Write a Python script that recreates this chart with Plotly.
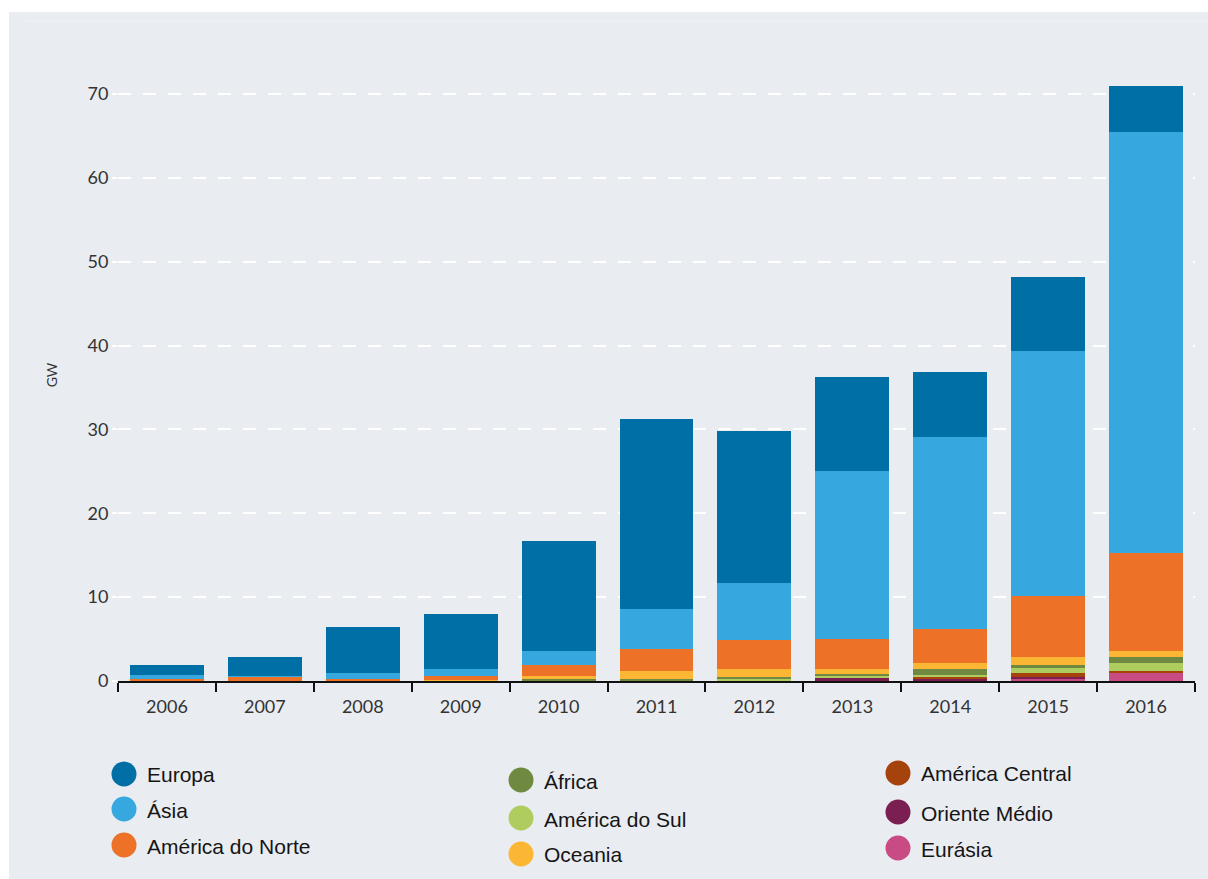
import plotly.graph_objects as go

# Solar PV capacity added per year, by region (GW)
years = ["2006", "2007", "2008", "2009", "2010", "2011", "2012", "2013", "2014", "2015", "2016"]

europa = [1.15, 2.2, 5.45, 6.65, 13.1, 22.7, 18.15, 11.2, 7.8, 8.85, 5.5]
asia = [0.5, 0.15, 0.75, 0.75, 1.71, 4.8, 6.7, 20.1, 22.95, 29.2, 50.25]
america_norte = [0.2, 0.45, 0.2, 0.5, 1.27, 2.6, 3.55, 3.55, 4.05, 7.25, 11.7]
oceania = [0.05, 0.05, 0.0, 0.15, 0.35, 1.0, 0.9, 0.6, 0.7, 1.0, 0.75]
africa = [0.0, 0.0, 0.0, 0.0, 0.15, 0.1, 0.2, 0.3, 0.7, 0.35, 0.72]
america_sul = [0.0, 0.0, 0.0, 0.0, 0.1, 0.1, 0.3, 0.25, 0.2, 0.6, 0.92]
america_central = [0.0, 0.0, 0.0, 0.0, 0.0, 0.0, 0.0, 0.0, 0.2, 0.45, 0.27]
oriente_medio = [0.0, 0.0, 0.0, 0.0, 0.0, 0.0, 0.0, 0.3, 0.3, 0.25, 0.0]
eurasia = [0.0, 0.0, 0.0, 0.0, 0.0, 0.0, 0.0, 0.0, 0.0, 0.25, 0.9]

y_ticks = [0, 10, 20, 30, 40, 50, 60, 70]

# (name, values, colour) in stacking order, bottom to top
stack = [
    ("Eurásia", eurasia, "#c94b84"),
    ("Oriente Médio", oriente_medio, "#7b1f52"),
    ("América Central", america_central, "#a6420c"),
    ("América do Sul", america_sul, "#afcd5f"),
    ("África", africa, "#6f8940"),
    ("Oceania", oceania, "#fbb634"),
    ("América do Norte", america_norte, "#ed7127"),
    ("Ásia", asia, "#37a8df"),
    ("Europa", europa, "#006fa6"),
]
colours = {name: col for name, _, col in stack}

# Legend layout: three columns of entries
legend_columns = [
    ["Europa", "Ásia", "América do Norte"],
    ["África", "América do Sul", "Oceania"],
    ["América Central", "Oriente Médio", "Eurásia"],
]

W, H = 1208, 879
ML, MR, MT, MB = 118, 13, 69, 198
BG = "#e9ecf1"

fig = go.Figure()
for name, vals, col in stack:
    fig.add_trace(go.Bar(
        x=years, y=vals, name=name,
        marker=dict(color=col, line=dict(width=0)),
        showlegend=False,
    ))


def px_x(p):
    return (p - ML) / (W - ML - MR)


def px_y(p):
    return (H - MB - p) / (H - MB - MT)


shapes = [
    # grey panel behind the whole chart
    dict(type="rect", xref="paper", yref="paper", layer="below",
         x0=px_x(9), x1=px_x(W + 2), y0=px_y(H + 2), y1=px_y(12),
         fillcolor=BG, line=dict(width=0)),
    dict(type="line", xref="paper", yref="paper", layer="below",
         x0=px_x(25), x1=px_x(W), y0=px_y(21), y1=px_y(21),
         line=dict(color="#f1f3f6", width=1)),
]
annotations = []

col_circle_x = [124, 521, 898]
col_rows_y = [[774, 809, 845], [780, 818, 854], [773, 812, 848]]
r = 12.5
for ci, names in enumerate(legend_columns):
    cx = col_circle_x[ci]
    for ri, nm in enumerate(names):
        cy = col_rows_y[ci][ri]
        shapes.append(dict(
            type="circle", xref="paper", yref="paper",
            x0=px_x(cx - r), x1=px_x(cx + r), y0=px_y(cy + r), y1=px_y(cy - r),
            fillcolor=colours[nm], line=dict(width=0),
        ))
        annotations.append(dict(
            xref="paper", yref="paper", x=px_x(cx + 21), y=px_y(cy + 1),
            text=nm, showarrow=False, xanchor="left", yanchor="middle",
            font=dict(family="Liberation Sans, Arial, sans-serif", size=21, color="#151515"),
        ))

fig.update_layout(
    width=W, height=H,
    margin=dict(l=ML, r=MR, t=MT, b=MB),
    barmode="stack",
    bargap=0.245,
    paper_bgcolor="white",
    plot_bgcolor=BG,
    shapes=shapes,
    annotations=annotations,
    showlegend=False,
    xaxis=dict(
        type="category",
        showline=True, linecolor="#111111", linewidth=2,
        ticks="outside", tickson="boundaries", ticklen=9, tickwidth=2, tickcolor="#111111",
        ticklabelstandoff=8,
        showgrid=False,
        tickfont=dict(family="Lato, sans-serif", size=18, color="#333333"),
    ),
    yaxis=dict(
        range=[0, 73],
        tickvals=y_ticks,
        showline=False, zeroline=False,
        showgrid=True, gridcolor="white", gridwidth=2, griddash="13px,12px",
        ticks="outside", ticklen=5, tickwidth=2, tickcolor="white",
        tickfont=dict(family="Lato, sans-serif", size=18, color="#333333"),
        title=dict(text="GW", standoff=26,
                   font=dict(family="Lato, sans-serif", size=14, color="#333333")),
    ),
)

fig.write_html("out.html")
